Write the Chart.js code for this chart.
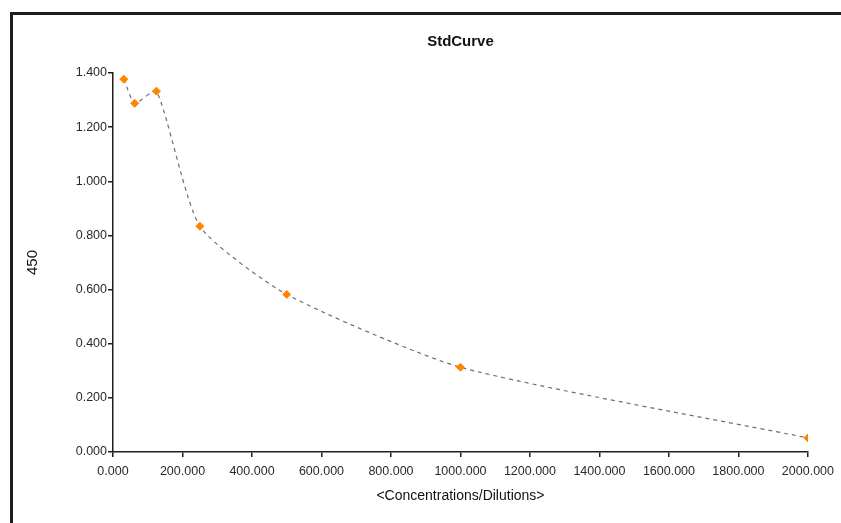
<!DOCTYPE html>
<html>
<head>
<meta charset="utf-8">
<script src="https://cdn.jsdelivr.net/npm/chart.js@4/dist/chart.umd.min.js"></script>
<style>
	html, body { margin: 0; padding: 0; background: #fff; }
	#wrap { position: relative; width: 841px; height: 523px; overflow: hidden; }
	#frame {
		position: absolute; left: 10px; top: 12px; width: 900px; height: 600px;
		border-left: 3px solid #1e1e1e; border-top: 3px solid #1e1e1e;
	}
	canvas { position: absolute; left: 0; top: 0; }
</style>
</head>
<body>
<div id="wrap">
	<div id="frame"></div>
	<canvas id="chart" width="841" height="523"></canvas>
</div>
<script>
// concentrations (x) and 450 readings (y)
const concentrations = [31.25, 62.5, 125, 250, 500, 1000, 2000]
const od450 = [1.377, 1.288, 1.333, 0.834, 0.582, 0.313, 0.052]

const chartTitle = 'StdCurve'
const xTitle = '<Concentrations/Dilutions>'
const yTitle = '450'

const points = concentrations.map((x, i) => ({ x, y: od450[i] }))
const font = 'Liberation Sans, Arial, sans-serif'

const axisCommon = {
	border: { display: true, color: '#1e1e1e', width: 1.5 },
	grid: { display: true, drawOnChartArea: false, drawTicks: true, tickLength: 5, color: '#1e1e1e', lineWidth: 1.5 },
	ticks: { color: '#2a2a2a', font: { family: font, size: 12.5 } },
}

new Chart(document.getElementById('chart'), {
	type: 'line',
	data: {
		datasets: [{
			data: points,
			borderColor: '#6e6e6e',
			borderWidth: 1.2,
			borderDash: [4, 4],
			tension: 0.2,
			pointStyle: 'rectRot',
			pointRadius: 4,
			pointBackgroundColor: '#ff8500',
			pointBorderColor: '#ff8500',
			pointBorderWidth: 1,
		}],
	},
	options: {
		responsive: false,
		animation: false,
		layout: { padding: { left: 0, right: 33, top: 0, bottom: 0 } },
		plugins: {
			legend: { display: false },
			tooltip: { enabled: false },
			title: {
				display: true,
				fullSize: false, // center over the plot area
				text: chartTitle,
				color: '#111',
				font: { family: font, size: 15, weight: 'bold' },
				padding: { top: 33, bottom: 22 },
			},
		},
		scales: {
			x: {
				...axisCommon,
				type: 'linear',
				min: 0,
				max: 2000,
				ticks: { ...axisCommon.ticks, padding: 7, stepSize: 200, maxRotation: 0, callback: (v) => v.toFixed(3) },
				title: { display: true, text: xTitle, color: '#111', font: { family: font, size: 14 }, padding: { top: 0, bottom: 18 } },
				afterFit: (scale) => { scale.height = 71 },
			},
			y: {
				...axisCommon,
				min: 0,
				max: 1.4,
				ticks: { ...axisCommon.ticks, padding: 1, stepSize: 0.2, callback: (v) => v.toFixed(3) },
				title: { display: true, text: yTitle, color: '#111', font: { family: font, size: 15 }, padding: { top: 24, bottom: 0 } },
				afterFit: (scale) => { scale.width = 113 },
			},
		},
	},
})
</script>
</body>
</html>
